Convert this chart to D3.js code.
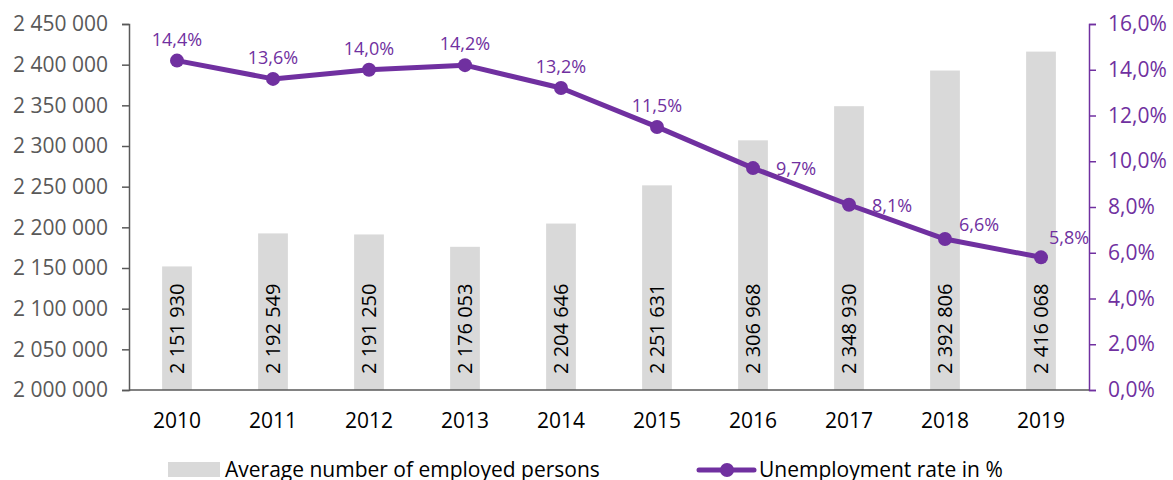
<!DOCTYPE html>
<html>
<head>
<meta charset="utf-8">
<script src="https://cdn.jsdelivr.net/npm/d3@7"></script>
<style>
  body { margin: 0; background: #fff; }
  svg text { font-family: "Open Sans", sans-serif; }
</style>
</head>
<body>
<svg id="chart"></svg>
<script>
// 数据
const years = ["2010", "2011", "2012", "2013", "2014", "2015", "2016", "2017", "2018", "2019"];
const employed = [2151930, 2192549, 2191250, 2176053, 2204646, 2251631, 2306968, 2348930, 2392806, 2416068];
const unemployment = [14.4, 13.6, 14.0, 14.2, 13.2, 11.5, 9.7, 8.1, 6.6, 5.8];
const leftTicks = [2000000, 2050000, 2100000, 2150000, 2200000, 2250000, 2300000, 2350000, 2400000, 2450000];
const rightTicks = [0, 2, 4, 6, 8, 10, 12, 14, 16];
// 标签位置: 上方 / 右侧 / 右上
const labelPos = ["top", "top", "top", "top", "top", "top", "right", "right", "upright", "topright"];

(function () {
  const W = 1173, H = 480;
  const plotLeft = 129, plotRight = 1089, plotTop = 24, plotBottom = 390;
  const purple = "#7030a0";

  const svg = d3.select("#chart").attr("width", W).attr("height", H);

  const x = d3.scaleBand().domain(years).range([plotLeft, plotRight]).paddingInner(0.69).paddingOuter(0.345);
  const y = d3.scaleLinear().domain([2000000, 2450000]).range([plotBottom, plotTop]);
  const y2 = d3.scaleLinear().domain([0, 16]).range([plotBottom, plotTop]);

  const fmtNum = (d) => d3.format(",")(d).replace(/,/g, " ");
  const fmtPct = (d) => d.toFixed(1).replace(".", ",") + "%";

  // 柱子
  svg.append("g")
    .selectAll("rect")
    .data(employed)
    .join("rect")
    .attr("x", (d, i) => x(years[i]))
    .attr("width", x.bandwidth())
    .attr("y", (d) => y(d))
    .attr("height", (d) => plotBottom - y(d))
    .attr("fill", "#d9d9d9");

  // 柱子标签
  svg.append("g")
    .selectAll("text")
    .data(employed)
    .join("text")
    .attr("transform", (d, i) => `translate(${x(years[i]) + x.bandwidth() / 2 + 7},${plotBottom - 16}) rotate(-90)`)
    .attr("font-size", 20)
    .attr("fill", "#000")
    .text((d) => fmtNum(d));

  // 左轴
  const yAxis = svg.append("g")
    .attr("transform", `translate(${plotLeft},0)`)
    .call(d3.axisLeft(y).tickValues(leftTicks).tickSize(7).tickPadding(14).tickFormat(fmtNum));
  yAxis.selectAll("path, line").attr("stroke", "#595959").attr("stroke-width", 1.5);
  yAxis.selectAll("text").attr("font-size", 21).attr("fill", "#595959").attr("font-family", "Open Sans");

  // 右轴
  const y2Axis = svg.append("g")
    .attr("transform", `translate(${plotRight},0)`)
    .call(d3.axisRight(y2).tickValues(rightTicks).tickSize(7).tickPadding(12).tickFormat(fmtPct));
  y2Axis.selectAll("path, line").attr("stroke", purple).attr("stroke-width", 1.5);
  y2Axis.selectAll("text").attr("font-size", 21).attr("fill", purple).attr("font-family", "Open Sans");

  // X轴
  svg.append("line")
    .attr("x1", plotLeft).attr("x2", plotRight)
    .attr("y1", plotBottom).attr("y2", plotBottom)
    .attr("stroke", "#595959").attr("stroke-width", 1.5);

  svg.append("g")
    .selectAll("text")
    .data(years)
    .join("text")
    .attr("x", (d) => x(d) + x.bandwidth() / 2)
    .attr("y", 428)
    .attr("text-anchor", "middle")
    .attr("font-size", 21)
    .attr("fill", "#000")
    .text((d) => d);

  // 折线
  const cx = (i) => x(years[i]) + x.bandwidth() / 2;
  const line = d3.line().x((d, i) => cx(i)).y((d) => y2(d));

  svg.append("path")
    .datum(unemployment)
    .attr("d", line)
    .attr("fill", "none")
    .attr("stroke", purple)
    .attr("stroke-width", 5)
    .attr("stroke-linejoin", "round");

  svg.append("g")
    .selectAll("circle")
    .data(unemployment)
    .join("circle")
    .attr("cx", (d, i) => cx(i))
    .attr("cy", (d) => y2(d))
    .attr("r", 7)
    .attr("fill", purple);

  // 折线标签偏移
  const offsets = {
    top: [0, -15],
    right: [23, 7],
    upright: [14, -8],
    topright: [8, -13],
  };

  svg.append("g")
    .selectAll("text")
    .data(unemployment)
    .join("text")
    .attr("x", (d, i) => cx(i) + offsets[labelPos[i]][0])
    .attr("y", (d, i) => y2(d) + offsets[labelPos[i]][1])
    .attr("text-anchor", (d, i) => (labelPos[i] === "top" ? "middle" : "start"))
    .attr("font-size", 18)
    .attr("fill", purple)
    .text((d) => fmtPct(d));

  // 图例
  const legend = svg.append("g");
  legend.append("rect")
    .attr("x", 168).attr("y", 462).attr("width", 52).attr("height", 15)
    .attr("fill", "#d9d9d9");
  legend.append("text")
    .attr("x", 225).attr("y", 477)
    .attr("font-size", 21).attr("fill", "#000")
    .text("Average number of employed persons");
  legend.append("line")
    .attr("x1", 699).attr("x2", 754).attr("y1", 470).attr("y2", 470)
    .attr("stroke", purple).attr("stroke-width", 5).attr("stroke-linecap", "round");
  legend.append("circle")
    .attr("cx", 727).attr("cy", 470).attr("r", 7).attr("fill", purple);
  legend.append("text")
    .attr("x", 759).attr("y", 477)
    .attr("font-size", 21).attr("fill", "#000")
    .text("Unemployment rate in %");
})();
</script>
</body>
</html>
